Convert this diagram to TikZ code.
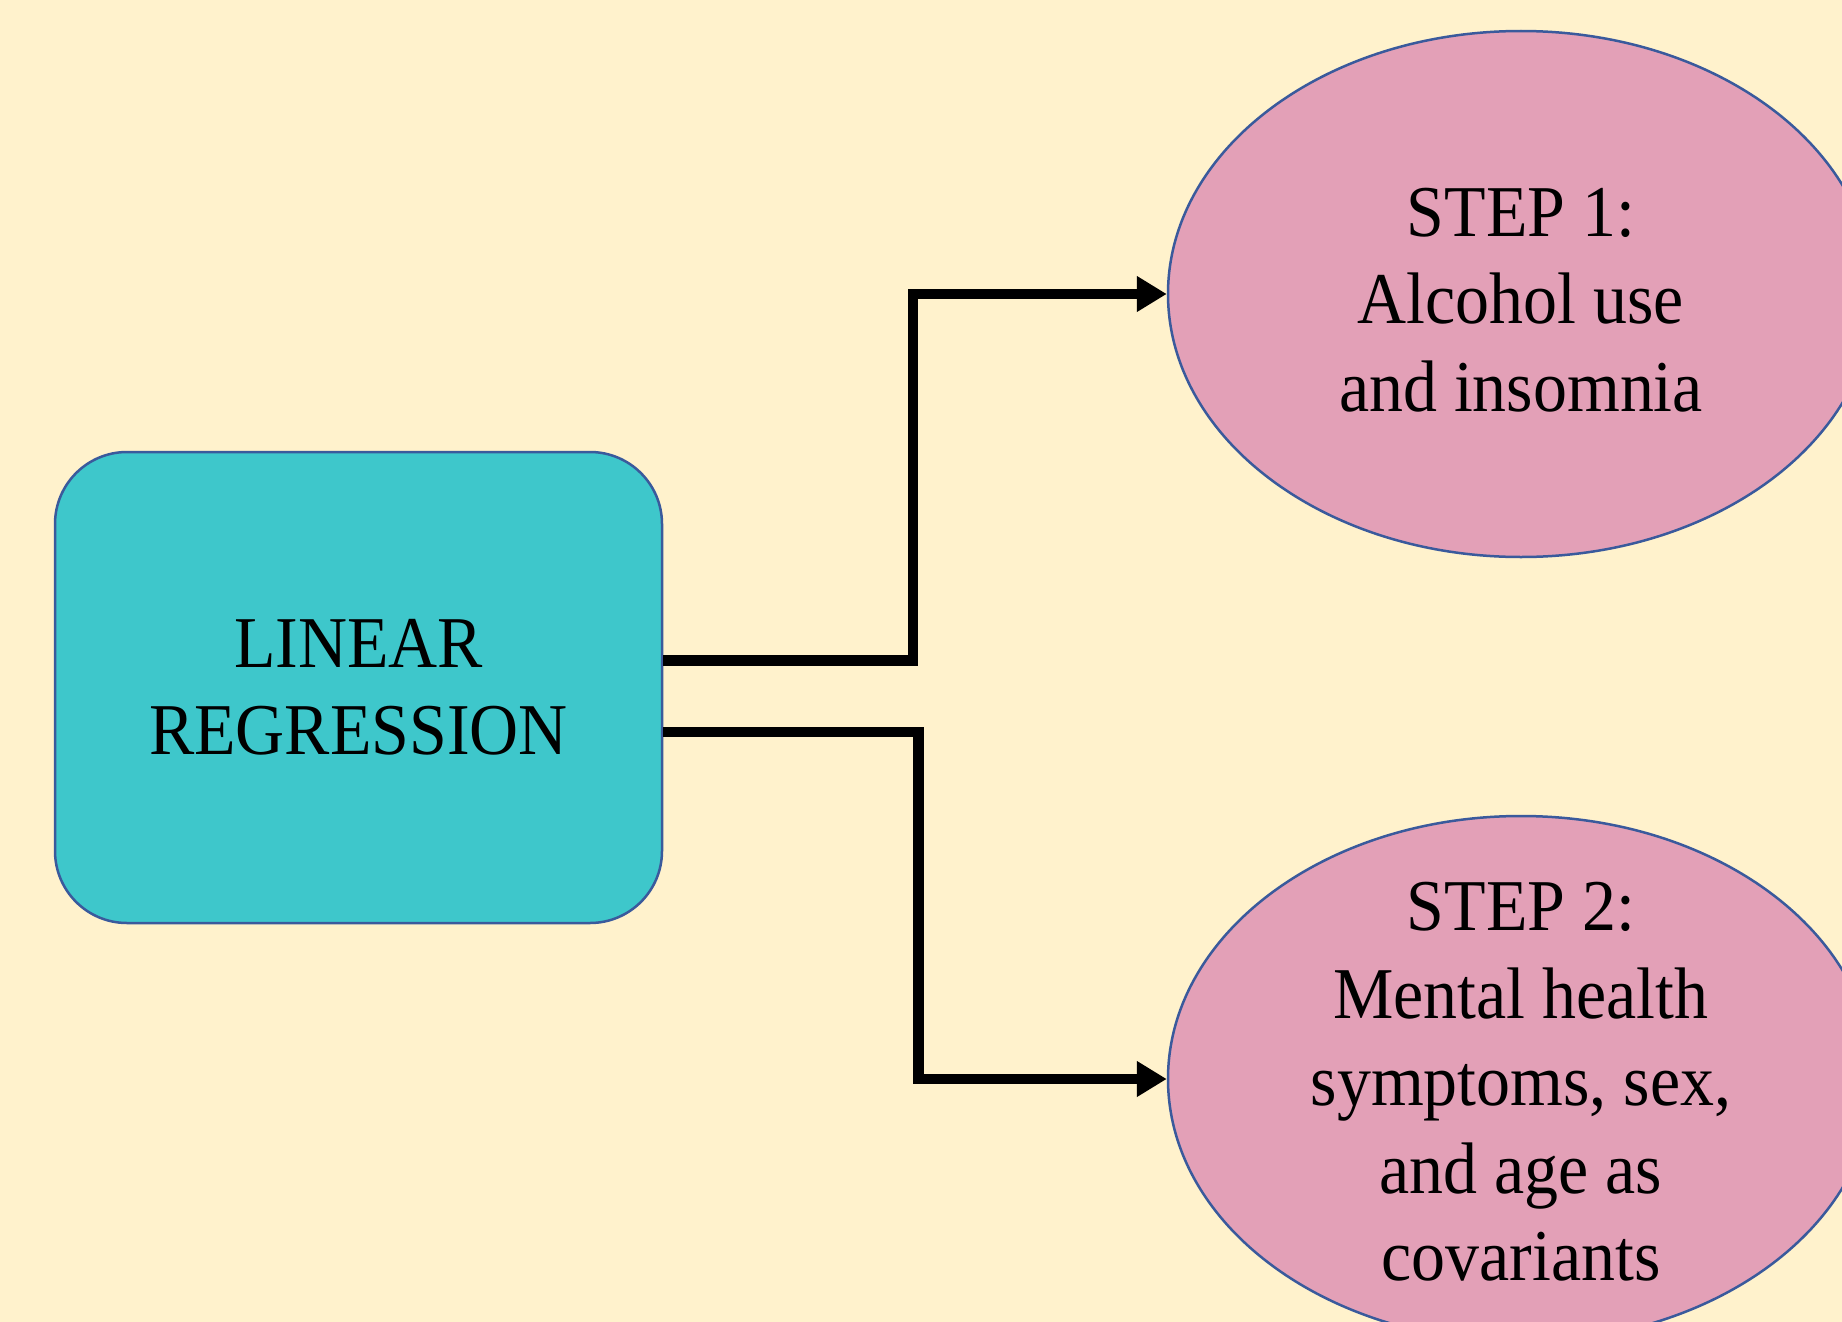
\documentclass[tikz,border=0pt]{standalone}
\usepackage{fontspec}
\setmainfont{Liberation Serif}[FakeStretch=0.93]
\usetikzlibrary{shapes.geometric,arrows.meta}
\definecolor{bgcream}{HTML}{FFF2CC}
\definecolor{tealfill}{HTML}{3EC7CB}
\definecolor{pinkfill}{HTML}{E3A0B7}
\definecolor{edgeblue}{HTML}{3A5A9C}
\tikzset{
  regbox/.style={rectangle, rounded corners=72pt, draw=edgeblue, line width=2.5pt,
    fill=tealfill, minimum width=607pt, minimum height=471pt, inner sep=0pt},
  stepell/.style={ellipse, draw=edgeblue, line width=2.5pt, fill=pinkfill,
    minimum width=706pt, minimum height=526pt, inner sep=0pt},
  bigtext/.style={align=center, inner sep=0pt, font=\fontsize{73}{87.5}\selectfont},
  conn/.style={line width=10.5pt, line join=miter, draw=black,
    -{Triangle[length=30pt,width=34pt]}}
}
\begin{document}
\begin{tikzpicture}[x=1pt,y=-1pt]
\useasboundingbox (0,0) rectangle (1842,1322);
\fill[bgcream] (0,0) rectangle (1842,1322);
\clip (0,0) rectangle (1842,1322);
\node[regbox] (lr) at (358.5,687.5) {};
\node[bigtext] (lrt) at (lr.center) {LINEAR\\REGRESSION};
\node[stepell] (s1) at (1521,294) {};
\node[bigtext] (s1t) at (1521,300) {STEP 1:\\Alcohol use\\and insomnia};
\node[stepell] (s2) at (1521,1079) {};
\node[bigtext] (s2t) at (1521,1082) {STEP 2:\\Mental health\\symptoms, sex,\\and age as\\covariants};
\draw[conn] ([yshift=27pt]lr.east) -- ++(249.5,0) |- (s1.west);
\draw[conn] ([yshift=-44.5pt]lr.east) -- ++(255,0) |- (s2.west);
\end{tikzpicture}
\end{document}
